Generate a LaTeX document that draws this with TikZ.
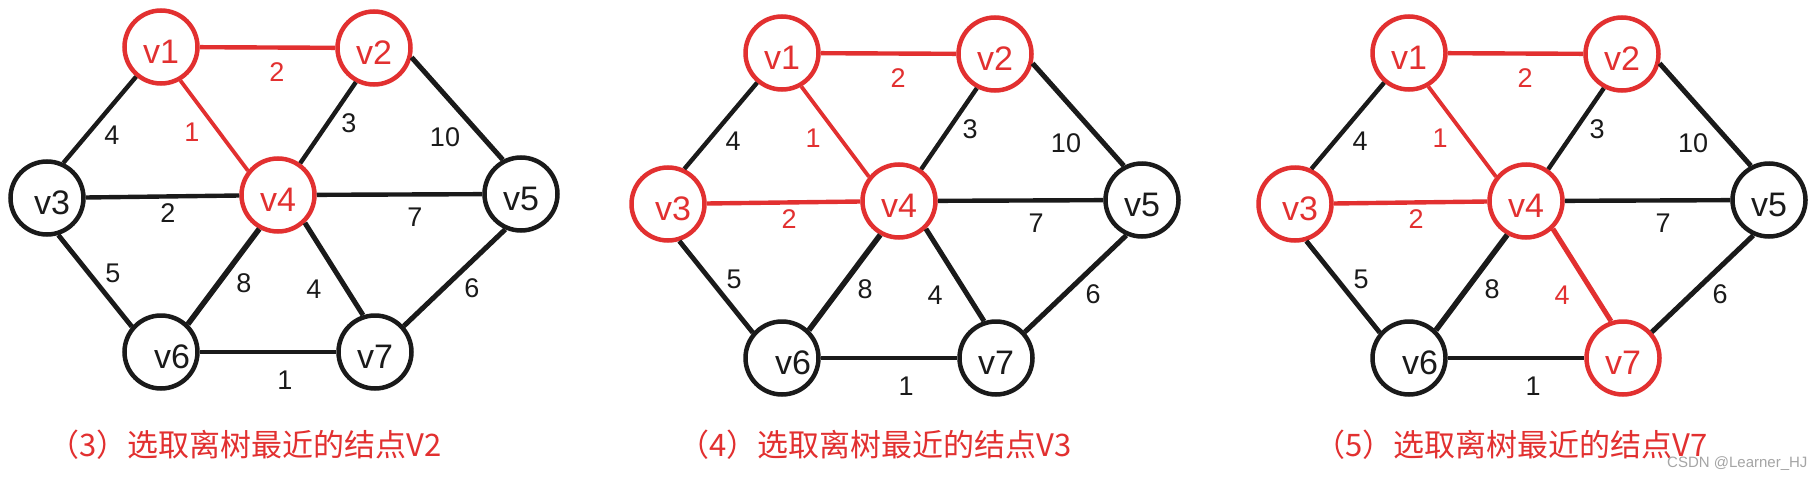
\documentclass[tikz,border=0pt]{standalone}
\usepackage{fontspec}
\setmainfont{Liberation Sans}
\newfontfamily\cjk{Noto Sans CJK SC}
\definecolor{rd}{RGB}{226,48,48}
\definecolor{bk}{RGB}{26,26,26}
\definecolor{wm}{RGB}{165,165,165}
\tikzset{
 vtx/.style={circle, draw=#1, text=#1, line width=4.5pt, minimum size=73pt, inner sep=0pt,
   text height=32pt, text depth=0pt, font=\fontsize{34}{34}\selectfont},
 ed/.style={draw=#1, line width=4.4pt},
 wt/.style={text=#1, inner sep=0pt, font=\fontsize{27}{27}\selectfont},
 captxt/.style={text=rd, inner sep=0pt, anchor=base, font=\cjk\fontsize{31}{31}\selectfont},
}
\newcommand\pnl[6]{%
\begin{scope}[shift={#2}]
 \node[vtx=rd] (#1v1) at (161,47) {v1};
 \node[vtx=rd] (#1v2) at (374,48) {v2\hspace{12pt}};
 \node[vtx=#3] (#1v3) at (47,198) {\hspace{10pt}v3};
 \node[vtx=rd] (#1v4) at (278,195) {v4};
 \node[vtx=bk] (#1v5) at (521,194) {v5};
 \node[vtx=bk] (#1v6) at (161,352) {\hspace{22pt}v6};
 \node[vtx=#4] (#1v7) at (375,352) {v7};
 \draw[ed=rd] (#1v1) -- (#1v2);
 \draw[ed=rd, line width=3.8pt] (#1v1.-60) -- (#1v4.141);
 \draw[ed=bk] (#1v1.230) -- (#1v3.65);
 \draw[ed=#5] (#1v3) -- (#1v4);
 \draw[ed=bk] (#1v2.242) -- (#1v4.55);
 \draw[ed=bk, line width=5pt] (#1v2.-14) -- (#1v5.118);
 \draw[ed=bk] (#1v4) -- (#1v5);
 \draw[ed=bk, line width=4.8pt] (#1v3.-73) -- (#1v6.139);
 \draw[ed=bk, line width=5.5pt] (#1v4.241) -- (#1v6.46);
 \draw[ed=#6, line width=5pt] (#1v4.-46) -- (#1v7.108);
 \draw[ed=bk, line width=5pt] (#1v5.246) -- (#1v7.42);
 \draw[ed=bk] (#1v6) -- (#1v7);
 \node[wt=rd] (#1w12) at (277,72) {2};
 \node[wt=bk] (#1w13) at (112,135) {4};
 \node[wt=rd] (#1w14) at (192,132) {1};
 \node[wt=#5] (#1w34) at (168,213) {2};
 \node[wt=bk] (#1w24) at (349,123) {3};
 \node[wt=bk] (#1w25) at (445,137) {10};
 \node[wt=bk] (#1w45) at (415,217) {7};
 \node[wt=bk] (#1w36) at (113,273) {5};
 \node[wt=bk] (#1w46) at (244,283) {8};
 \node[wt=#6] (#1w47) at (314,289) {4};
 \node[wt=bk] (#1w57) at (472,288) {6};
 \node[wt=bk] (#1w67) at (285,380) {1};
\end{scope}}
\begin{document}
\begin{tikzpicture}[x=1pt,y=-1pt]
\useasboundingbox[fill=white] (0,0) rectangle (1820,479);
\pnl{a}{(0,0)}{bk}{bk}{bk}{bk}
\pnl{b}{(621,6)}{rd}{bk}{rd}{bk}
\pnl{c}{(1248,6)}{rd}{rd}{rd}{rd}
\node[captxt] (capa) at (245,456) {（3）选取离树最近的结点V2};
\node[captxt] (capb) at (875,456) {（4）选取离树最近的结点V3};
\node[captxt] (capc) at (1511,456) {（5）选取离树最近的结点V7};
\node[text=wm, anchor=base west, inner sep=0pt, font=\fontsize{15}{15}\selectfont] (wmk) at (1667,467) {CSDN @Learner\_HJ};
\end{tikzpicture}
\end{document}
